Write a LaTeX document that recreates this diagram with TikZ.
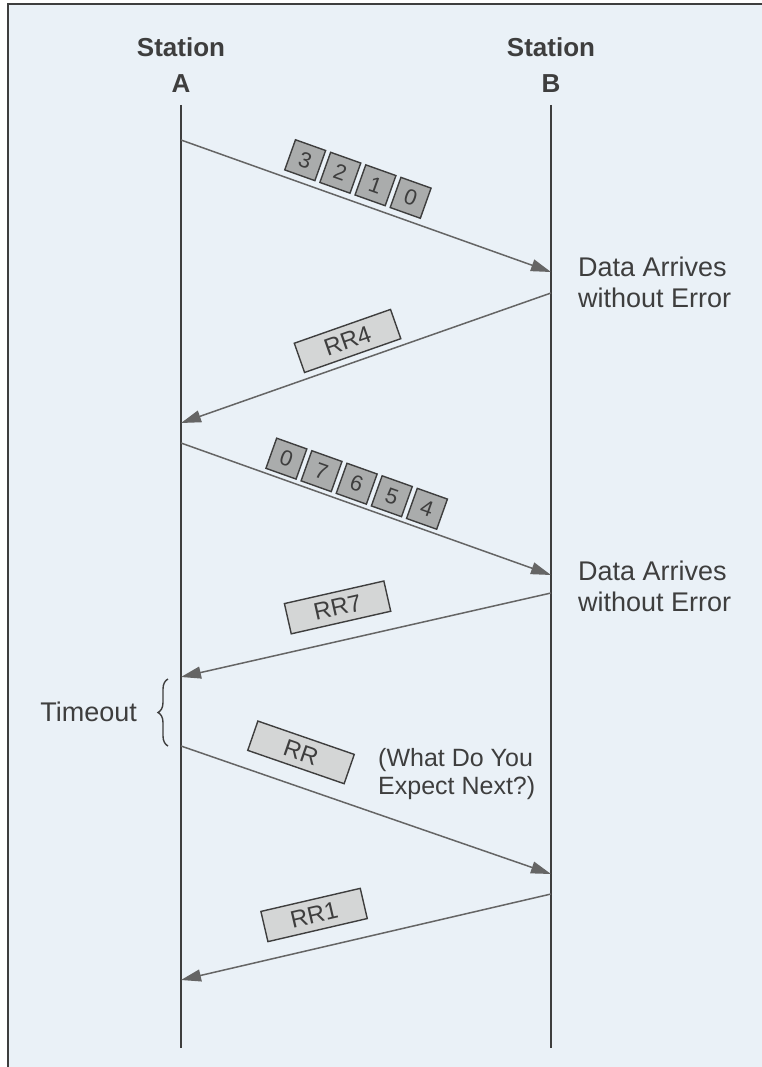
\documentclass[tikz,border=0pt]{standalone}
\usepackage{fontspec}
\setmainfont{Liberation Sans}
\usetikzlibrary{arrows.meta,decorations.pathreplacing}
\definecolor{paper}{RGB}{234,241,247}
\definecolor{ink}{RGB}{62,62,62}
\definecolor{pktgray}{RGB}{170,172,172}
\definecolor{ackgray}{RGB}{212,214,214}
\tikzset{
    life/.style ={line width=2.6pt, draw=ink},
    msg/.style ={line width=1.5pt, draw=ink!80, -{Triangle[length=20pt,width=12pt]}},
    pkt/.style ={rectangle, minimum width=32pt, minimum height=32pt, inner sep=0pt, draw=ink, line width=1.4pt, fill=pktgray, text=ink, font=\fontsize{22}{22}\selectfont, sloped},
    ack/.style ={rectangle, minimum width=102pt, minimum height=31pt, inner sep=0pt, draw=ink, line width=1.4pt, fill=ackgray, text=ink, font=\fontsize{24}{24}\selectfont, sloped},
    station/.style ={align=center, text=ink, font=\bfseries\fontsize{26}{36}\selectfont},
    note/.style ={align=left, anchor=west, inner sep=0pt, text=ink, font=\fontsize{27}{31}\selectfont}}

\begin{document}
\begin{tikzpicture}[x=1pt,y=-1pt]
        \useasboundingbox (0,0) rectangle (762,1067);
        \fill[white] (0,0) rectangle (762,1067);
        \fill[paper] (8,4) rectangle (762,1067);
        \draw[line width=2pt, ink] (8,1067) -- (8,4) -- (762,4);
        % stations and time lines
        \node[station] (stA) at(181,65){Station\\A};
        \node[station] (stB) at(551,65){Station\\B};
        \coordinate (a0) at(181,105);
        \coordinate (a9) at(181,1048);
        \coordinate (b0) at(551,105);
        \coordinate (b9) at(551,1048);
        \draw[life] (a0) -- (a9);
        \draw[life] (b0) -- (b9);
        % end points of the frames
        \coordinate (a1) at(181,140);
        \coordinate (b1) at(551,272);
        \coordinate (b2) at(551,293);
        \coordinate (a2) at(181,423);
        \coordinate (a3) at(181,443);
        \coordinate (b3) at(551,575);
        \coordinate (b4) at(551,593);
        \coordinate (a4) at(181,677);
        \coordinate (a5) at(181,746);
        \coordinate (b5) at(551,874);
        \coordinate (b6) at(551,894);
        \coordinate (a6) at(181,980);
        % frames
        \draw[msg] (a1) -- (b1);
        \foreach \d [count=\i, evaluate=\i as \t using 0.22+0.095*\i] in {3,2,1,0}
            \path (a1) -- (b1) node[pkt, pos=\t, above=6pt] (p\d) {\d};
        \draw[msg] (b2) -- (a2) node[ack, pos=0.53, above=6pt] (rr4) {RR4};
        \draw[msg] (a3) -- (b3);
        \foreach \d [count=\i, evaluate=\i as \t using 0.171+0.095*\i] in {0,7,6,5,4}
            \path (a3) -- (b3) node[pkt, pos=\t, above=4pt] (q\d) {\d};
        \draw[msg] (b4) -- (a4) node[ack, pos=0.557, above=17pt] (rr7) {RR7};
        \draw[msg] (a5) -- (b5) node[ack, pos=0.295, above=17pt] (rr) {RR};
        \draw[msg] (b6) -- (a6) node[ack, pos=0.62, above=17pt] (rr1) {RR1};
        % remarks
        \node[note] (ok1) at(578,282){Data Arrives\\without Error};
        \node[note] (ok2) at(578,586){Data Arrives\\without Error};
        \draw[line width=1.4pt, ink, decorate, decoration={brace, amplitude=10pt}] (168,746) -- (168,679);
        \node[note, anchor=east] (tmo) at(137,712){Timeout};
        \node[note, font=\fontsize{25}{28}\selectfont] (ask) at(378,774){(What Do You\\Expect Next?)};
    \end{tikzpicture}
\end{document}
